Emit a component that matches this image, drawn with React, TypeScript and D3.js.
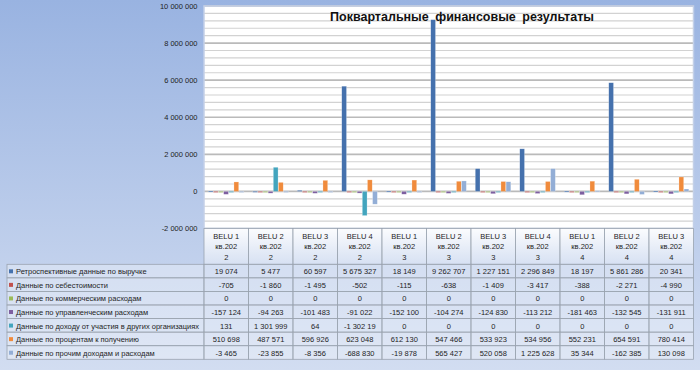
import React, { useEffect, useRef } from 'react';
import * as d3 from 'd3';

// chart data
const categories = [
  'BELU 1 кв.2022', 'BELU 2 кв.2022', 'BELU 3 кв.2022', 'BELU 4 кв.2022',
  'BELU 1 кв.2023', 'BELU 2 кв.2023', 'BELU 3 кв.2023', 'BELU 4 кв.2023',
  'BELU 1 кв.2024', 'BELU 2 кв.2024', 'BELU 3 кв.2024',
];
const seriesNames = [
  'Ретроспективные данные по выручке',
  'Данные по себестоимости',
  'Данные по коммерческим расходам',
  'Данные по управленческим расходам',
  'Данные по доходу от участия в других организациях',
  'Данные по процентам к получению',
  'Данные по прочим доходам и расходам',
];
const revenue = [19074, 5477, 60597, 5675327, 18149, 9262707, 1227151, 2296849, 18197, 5861286, 20341];
const costs = [-705, -1860, -1495, -502, -115, -638, -1409, -3417, -388, -2271, -4990];
const commercial = [0, 0, 0, 0, 0, 0, 0, 0, 0, 0, 0];
const management = [-157124, -94263, -101483, -91022, -152100, -104274, -124830, -113212, -181463, -132545, -131911];
const participation = [131, 1301999, 64, -1302190, 0, 0, 0, 0, 0, 0, 0];
const interest = [510698, 487571, 596926, 623048, 612130, 547466, 533923, 534956, 552231, 654591, 780414];
const other = [-3465, -23855, -8356, -688830, -19878, 565427, 520058, 1225628, 35344, -162385, 130098];
const seriesColors = ['#4571ad', '#c0504d', '#9bbb59', '#7d5fa0', '#43a5be', '#f08b3c', '#93aed6'];
const yTicks = [-2000000, 0, 2000000, 4000000, 6000000, 8000000, 10000000];
const title = 'Поквартальные финансовые результаты';

const font = '"Liberation Sans", Arial, sans-serif';

export default function App() {
  const ref = useRef<SVGSVGElement>(null);

  useEffect(() => {
    const series = [revenue, costs, commercial, management, participation, interest, other];
    const svg = d3.select(ref.current);
    svg.selectAll('*').remove();

    const W = 700, H = 370;
    const plot = { left: 204, right: 693.5, top: 6, bottom: 228.5 };
    const legendLeft = 7;
    const headerBottom = 264.3;
    const rowH = 13.57;

    const ru = d3.formatLocale({ decimal: ',', thousands: '\u00a0', grouping: [3], currency: ['', ''], minus: '-' });
    const fmt = ru.format(',d');

    // background
    const defs = svg.append('defs');
    const bg = defs.append('linearGradient').attr('id', 'bg').attr('x1', 0).attr('y1', 0).attr('x2', 0).attr('y2', 1);
    bg.append('stop').attr('offset', '0%').attr('stop-color', '#99b3e1');
    bg.append('stop').attr('offset', '100%').attr('stop-color', '#d2ddf1');
    const hg = defs.append('linearGradient').attr('id', 'hdr').attr('x1', 0).attr('y1', 0).attr('x2', 0).attr('y2', 1);
    hg.append('stop').attr('offset', '0%').attr('stop-color', '#ffffff').attr('stop-opacity', 0.95);
    hg.append('stop').attr('offset', '100%').attr('stop-color', '#ffffff').attr('stop-opacity', 0.35);
    defs.append('clipPath').attr('id', 'legclip').append('rect')
      .attr('x', legendLeft).attr('y', headerBottom).attr('width', plot.left - legendLeft - 1).attr('height', rowH * 7);

    svg.append('rect').attr('width', W).attr('height', H).attr('fill', 'url(#bg)');

    const x0 = d3.scaleBand().domain(categories).range([plot.left, plot.right]).padding(0);
    const x1 = d3.scaleBand().domain(d3.range(seriesNames.length).map(String)).range([0, x0.bandwidth()])
      .paddingInner(0).paddingOuter(0.83);
    const y = d3.scaleLinear().domain([-2000000, 10000000]).range([plot.bottom, plot.top]);

    // plot area
    svg.append('rect').attr('x', plot.left).attr('y', plot.top)
      .attr('width', plot.right - plot.left).attr('height', plot.bottom - plot.top)
      .attr('fill', '#ffffff');

    const grid = d3.range(-2000000, 10000001, 400000);
    svg.append('g').selectAll('line').data(grid).join('line')
      .attr('x1', plot.left).attr('x2', plot.right)
      .attr('y1', d => y(d)).attr('y2', d => y(d))
      .attr('stroke', d => (d % 2000000 === 0 ? '#bababa' : '#d2d2d2'))
      .attr('stroke-width', d => (d % 2000000 === 0 ? 1.6 : 1.1));

    // bars
    const g = svg.append('g');
    series.forEach((vals, si) => {
      g.append('g').selectAll('rect').data(vals).join('rect')
        .attr('x', (d, i) => (x0(categories[i]) as number) + (x1(String(si)) as number))
        .attr('width', x1.bandwidth() - 0.4)
        .attr('y', d => Math.min(y(d), y(0)))
        .attr('height', d => Math.max(Math.abs(y(d) - y(0)), 1))
        .attr('fill', seriesColors[si])
        .attr('stroke', '#ffffff').attr('stroke-opacity', 0.45).attr('stroke-width', 0.5);
    });

    svg.append('rect').attr('x', plot.left).attr('y', plot.top)
      .attr('width', plot.right - plot.left).attr('height', plot.bottom - plot.top)
      .attr('fill', 'none').attr('stroke', '#c3d0e8').attr('stroke-width', 1.5);

    // y axis labels
    svg.append('g').selectAll('text').data(yTicks).join('text')
      .attr('x', 197.5).attr('y', d => y(d) + 2.8)
      .attr('text-anchor', 'end')
      .style('font-family', font).style('font-size', '7.5px').attr('fill', '#1e1e1e')
      .text(d => fmt(d));

    // title
    svg.append('text').attr('x', 462).attr('y', 21).attr('text-anchor', 'middle')
      .style('font-family', font).style('font-size', '12.5px').style('font-weight', 'bold')
      .style('word-spacing', '3px').attr('fill', '#111')
      .text(title);

    // data table: header
    const table = svg.append('g');
    const bw = x0.bandwidth();
    categories.forEach(c => {
      const cx = x0(c) as number;
      table.append('rect').attr('x', cx).attr('y', plot.bottom)
        .attr('width', bw).attr('height', headerBottom - plot.bottom)
        .attr('fill', 'url(#hdr)').attr('stroke', '#9aa3b0').attr('stroke-width', 0.8);
      const parts = c.split(' ');
      const lines = [parts[0] + ' ' + parts[1], parts[2].slice(0, 6), parts[2].slice(6)];
      table.append('text').attr('x', cx + bw / 2).attr('y', 238.5).attr('text-anchor', 'middle')
        .style('font-family', font).style('font-size', '7.5px').attr('fill', '#1e1e1e')
        .selectAll('tspan').data(lines).join('tspan')
        .attr('x', cx + bw / 2).attr('dy', (d, i) => (i === 0 ? 0 : 10.5)).text(d => d);
    });

    // data table: rows
    seriesNames.forEach((name, si) => {
      const ry = headerBottom + si * rowH;
      table.append('rect').attr('x', legendLeft).attr('y', ry)
        .attr('width', plot.left - legendLeft).attr('height', rowH)
        .attr('fill', '#ffffff').attr('fill-opacity', 0.3).attr('stroke', '#9aa3b0').attr('stroke-width', 0.8);
      table.append('rect').attr('x', 9).attr('y', ry + 5).attr('width', 4).attr('height', 4)
        .attr('fill', seriesColors[si]);
      table.append('text').attr('x', 16).attr('y', ry + 10)
        .attr('clip-path', 'url(#legclip)')
        .style('font-family', font).style('font-size', '7.5px').attr('fill', '#1e1e1e')
        .text(name);
      series[si].forEach((v, ci) => {
        const cx = x0(categories[ci]) as number;
        table.append('rect').attr('x', cx).attr('y', ry).attr('width', bw).attr('height', rowH)
          .attr('fill', '#ffffff').attr('fill-opacity', 0.3).attr('stroke', '#9aa3b0').attr('stroke-width', 0.8);
        const t = table.append('text').attr('x', cx + bw / 2).attr('y', ry + 10).attr('text-anchor', 'middle')
          .style('font-family', font).style('font-size', '7.5px').attr('fill', '#1e1e1e');
        let s = fmt(v);
        t.text(s);
        const node = t.node() as SVGTextElement;
        while (s.length > 1 && node.getComputedTextLength() > bw - 9.5) {
          s = s.slice(0, -1);
          t.text(s);
        }
      });
    });
  }, []);

  return <svg ref={ref} width={700} height={370} style={{ position: 'absolute', left: 0, top: 0 }} />;
}
